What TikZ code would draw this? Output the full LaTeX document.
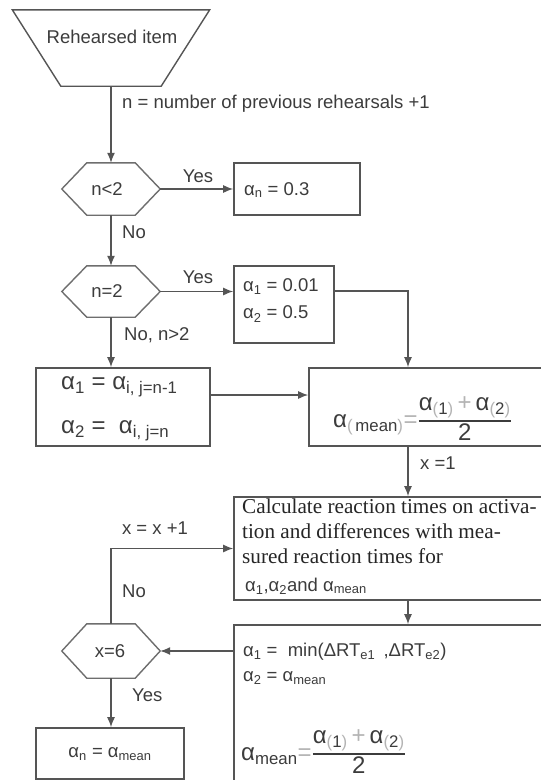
\documentclass[tikz,border=0pt]{standalone}
\usepackage{fontspec}
\usepackage{amsmath}
\setmainfont{Liberation Sans}
\newfontfamily\calcfont{Liberation Serif}
\usetikzlibrary{arrows.meta,calc}
\definecolor{linecol}{HTML}{555555}
\definecolor{hexcol}{HTML}{6E6E6E}
\definecolor{txtcol}{HTML}{3C3C3C}
\definecolor{darktxt}{HTML}{262626}
\definecolor{faint}{HTML}{B4B4B4}
\newcommand\fp[1]{\textcolor{faint}{(}#1\textcolor{faint}{)}}
\newcommand\hexdraw[1]{\draw[hexline] (#1.west) -- ([xshift=25pt]#1.north west) -- ([xshift=-25pt]#1.north east) -- (#1.east) -- ([xshift=-25pt]#1.south east) -- ([xshift=25pt]#1.south west) -- cycle;}
\begin{document}
\begin{tikzpicture}[x=1pt,y=-1pt,
  every node/.style={text=txtcol, font=\fontsize{18.5}{22}\selectfont},
  box/.style={draw=linecol, rectangle, inner sep=0, line width=1.6pt},
  hexbase/.style={rectangle, minimum width=98pt, inner sep=0},
  hexline/.style={draw=hexcol, line width=1.4pt},
  conn/.style={draw=linecol, line width=1.4pt},
  arr/.style={conn, -{Latex[length=10pt,width=8pt]}},
  lbl/.style={anchor=west, inner sep=0},
  big/.style={lbl, font=\fontsize{24}{28}\selectfont},
]
\useasboundingbox (0,0) rectangle (541,780);
\clip (0,0) rectangle (541,780);
\fill[white] (0,0) rectangle (541,780);

% start trapezoid
\node[hexbase, minimum width=197pt, minimum height=76pt] (trap) at (111,48) {};
\draw[hexline, draw=linecol] (trap.north west) -- (trap.north east) -- ([xshift=-48.5pt]trap.south east) -- ([xshift=48.5pt]trap.south west) -- cycle;
\node[inner sep=0] (traptxt) at (112,37) {Rehearsed item};

% decisions
\node[hexbase, minimum height=52pt] (h1) at (111,189) {};
\hexdraw{h1}
\node[inner sep=0] (h1t) at (107,189) {n<2};
\node[hexbase, minimum height=51pt] (h2) at (111,291.5) {};
\hexdraw{h2}
\node[inner sep=0] (h2t) at (107,291) {n=2};
\node[hexbase, minimum height=54pt] (h3) at (111,651) {};
\hexdraw{h3}
\node[inner sep=0] (h3t) at (110,651) {x=6};

% boxes
\node[box, minimum width=126pt, minimum height=52pt] (b0) at (297,189) {};
\node[lbl] (b0t) at (244,190) {α\textsubscript{n} = 0.3};
\node[box, minimum width=100pt, minimum height=77pt] (b12) at (284,304.5) {};
\node[lbl] (b12a) at (243,287) {α\textsubscript{1} = 0.01};
\node[lbl] (b12b) at (243,314) {α\textsubscript{2} = 0.5};
\node[box, minimum width=174pt, minimum height=78pt] (bA) at (123,407) {};
\node[big] (bAa) at (61,387) {α\textsubscript{1} = α\textsubscript{i, j=n-1}};
\node[big] (bAb) at (61,431) {α\textsubscript{2} = \ α\textsubscript{i, j=n}};
\node[box, minimum width=251pt, minimum height=78pt] (bM) at (434.5,407) {};
\node[big] (bMt) at (333,419) {α\textsubscript{\fp{\,mean}}\textcolor{faint}{=}$\genfrac{}{}{2pt}{}{\mbox{α\textsubscript{\fp{1}}\,\textcolor{faint}{+}\,α\textsubscript{\fp{2}}}}{\mbox{2}}$};
\node[box, minimum width=326pt, minimum height=103pt] (bC) at (397,548.5) {};
\node[anchor=north west, inner sep=0, align=left, text=darktxt, font=\calcfont\fontsize{21.2}{25}\selectfont] (bCt) at (242,499) {Calculate reaction times on activa-\\tion and differences with mea-\\sured reaction times for};
\node[lbl] (bCu) at (245,586) {α\textsubscript{1},α\textsubscript{2}and α\textsubscript{mean}};
\node[box, minimum width=326pt, minimum height=175pt] (bR) at (397,712.5) {};
\node[lbl] (bRa) at (243,652) {α\textsubscript{1} = \ min(ΔRT\textsubscript{e1} \,,ΔRT\textsubscript{e2})};
\node[lbl] (bRb) at (243,678) {α\textsubscript{2} = α\textsubscript{mean}};
\node[big] (bRc) at (241,752) {α\textsubscript{mean}\textcolor{faint}{=}$\genfrac{}{}{2pt}{}{\mbox{α\textsubscript{\fp{1}}\,\textcolor{faint}{+}\,α\textsubscript{\fp{2}}}}{\mbox{2}}$};
\node[box, minimum width=148pt, minimum height=51pt] (bF) at (110,753.5) {};
\node[inner sep=0] (bFt) at (110,754) {α\textsubscript{n} = α\textsubscript{mean}};

% column coordinate for the right-hand flow
\coordinate (col) at (408,0);

% connectors
\draw[arr] (trap.south) -- (h1.north);
\draw[arr] (h1.east) -- (b0.west);
\draw[arr] (h1.south) -- (h2.north);
\draw[arr] (h2.east) -- (h2.east -| b12.west);
\draw[arr] (h2.south) -- (h2.south |- bA.north);
\draw[arr] ([yshift=13.5pt]b12.east) -| (col |- bM.north);
\draw[arr] ([yshift=12pt]bA.east) -- ([yshift=12pt]bA.east -| bM.west);
\draw[arr] (col |- bM.south) -- (col |- bC.north);
\draw[arr] (col |- bC.south) -- (col |- bR.north);
\draw[arr] (h3.east -| bR.west) -- (h3.east);
\draw[arr] (h3.north) |- (bC.west);
\draw[arr] (h3.south) -- (h3.south |- bF.north);

% labels
\node[lbl] (ln) at (122,104) {n = number of previous rehearsals +1};
\node[inner sep=0] (ly1) at (198,176) {Yes};
\node[lbl] (lno1) at (122,232) {No};
\node[inner sep=0] (ly2) at (198,277) {Yes};
\node[lbl] (lno2) at (124,335) {No, n>2};
\node[lbl] (lx1) at (420,463) {x =1};
\node[inner sep=0] (lxx) at (155,528) {x = x +1};
\node[lbl] (lno3) at (122,591) {No};
\node[lbl] (ly3) at (132,695) {Yes};
\end{tikzpicture}
\end{document}
